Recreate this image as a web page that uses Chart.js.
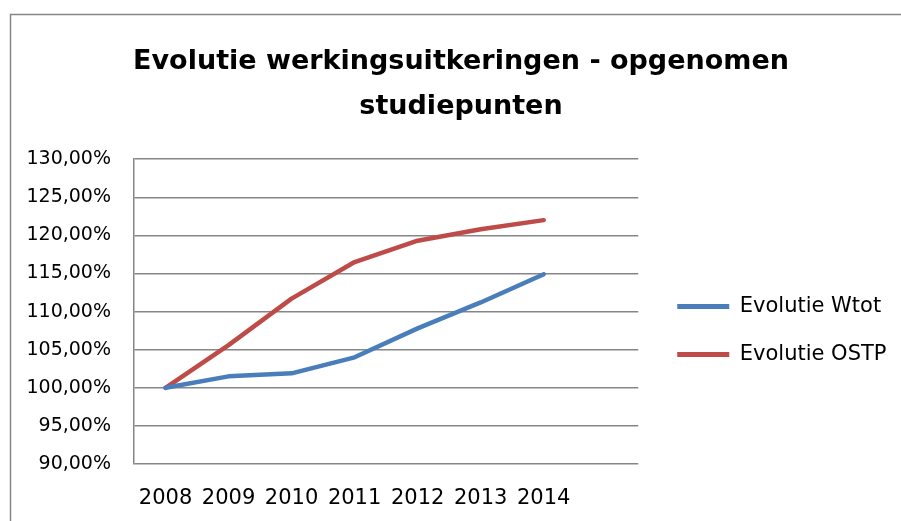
<!DOCTYPE html>
<html>
<head>
<meta charset="utf-8">
<script src="https://cdn.jsdelivr.net/npm/chart.js@4"></script>
<style>
html,body{margin:0;padding:0;background:#fff;}
#wrap{position:relative;width:901px;height:521px;}
</style>
</head>
<body>
<div id="wrap"><canvas id="c" width="901" height="521"></canvas></div>
<script>
const categories = ['2008','2009','2010','2011','2012','2013','2014'];
const evolutieWtot = [100.0, 101.5, 101.9, 104.0, 107.8, 111.2, 114.9];
const evolutieOSTP = [100.0, 105.6, 111.7, 116.5, 119.3, 120.8, 122.0];
const yTicks = [90, 95, 100, 105, 110, 115, 120, 125, 130];
const seriesNames = ['Evolutie Wtot', 'Evolutie OSTP'];
const titleLines = ['Evolutie werkingsuitkeringen - opgenomen', 'studiepunten'];

const FONT = "'DejaVu Sans', sans-serif";
const GRID = '#868686';

const framePlugin = {
  id: 'frame',
  beforeDraw(chart) {
    const ctx = chart.ctx;
    ctx.save();
    ctx.fillStyle = '#fff';
    ctx.fillRect(0, 0, chart.width, chart.height);
    ctx.strokeStyle = GRID;
    ctx.lineWidth = 1.5;
    ctx.strokeRect(10.5, 14.5, 2000, 2000);
    ctx.restore();
  }
};

// place legend and title blocks where the original has them
const blockPlace = {
  id: 'blockPlace',
  afterLayout(chart) {
    const lg = chart.legend;
    const dx = chart.chartArea.right + 39 - (lg.left + lg.options.labels.padding);
    const dy = 70;
    lg.left += dx;
    lg.right = chart.width;
    lg.top += dy; lg.bottom += dy;
    const tb = chart.titleBlock;
    tb.left = 21; tb.right = chart.width;
  }
};

new Chart(document.getElementById('c'), {
  type: 'line',
  data: {
    labels: categories.concat(['']),
    datasets: [
      { label: seriesNames[0], data: evolutieWtot, borderColor: '#4A7EBB', backgroundColor: '#4A7EBB',
        borderWidth: 4.5, pointRadius: 0, borderCapStyle: 'round', borderJoinStyle: 'round', tension: 0 },
      { label: seriesNames[1], data: evolutieOSTP, borderColor: '#BE4B48', backgroundColor: '#BE4B48',
        borderWidth: 4.5, pointRadius: 0, borderCapStyle: 'round', borderJoinStyle: 'round', tension: 0 }
    ]
  },
  options: {
    responsive: false,
    animation: false,
    layout: { padding: { left: 0, right: 50, top: 0, bottom: 0 } },
    plugins: {
      title: {
        display: true,
        text: titleLines,
        color: '#000',
        font: { family: FONT, size: 27, weight: 'bold', lineHeight: 1.67 },
        padding: { top: 39, bottom: 30 }
      },
      legend: {
        position: 'right',
        align: 'center',
        labels: {
          color: '#000',
          font: { family: FONT, size: 21 },
          boxWidth: 52,
          boxHeight: 5,
          padding: 27,
          generateLabels(chart) {
            return chart.data.datasets.map((ds, i) => ({
              text: ds.label, fillStyle: ds.borderColor, strokeStyle: ds.borderColor,
              lineWidth: 0, hidden: false, datasetIndex: i, fontColor: '#000'
            }));
          }
        }
      },
      tooltip: { enabled: false }
    },
    scales: {
      x: {
        offset: true,
        grid: { display: false, drawTicks: false },
        border: { display: false },
        ticks: { color: '#000', font: { family: FONT, size: 21 }, padding: 22, maxRotation: 0, autoSkip: false },
        afterFit(scale) { scale.height = 57; }
      },
      y: {
        min: 90, max: 130,
        afterBuildTicks(scale) { scale.ticks = yTicks.map(v => ({ value: v })); },
        grid: { color: GRID, lineWidth: 1.5, drawTicks: false },
        border: { display: true, color: GRID, width: 1.5 },
        ticks: {
          color: '#000', font: { family: FONT, size: 19 }, padding: 23,
          callback: v => v.toFixed(2).replace('.', ',') + '%'
        },
        afterFit(scale) { scale.width = 134; }
      }
    }
  },
  plugins: [framePlugin, blockPlace]
});
</script>
</body>
</html>
